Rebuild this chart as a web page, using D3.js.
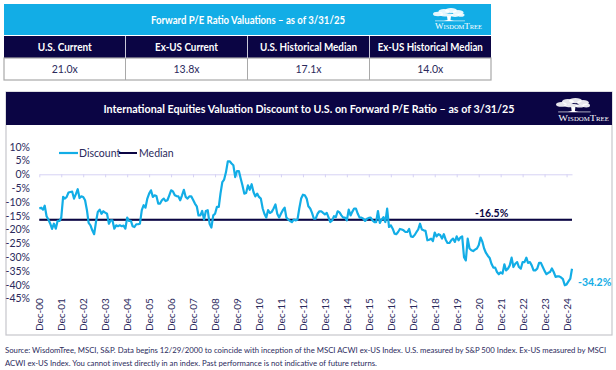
<!DOCTYPE html>
<html>
<head>
<meta charset="utf-8">
<script src="https://cdn.jsdelivr.net/npm/d3@7"></script>
<style>
  html, body { margin: 0; padding: 0; background: #fff; }
  text { font-family: "Lato", "Open Sans", sans-serif; }
</style>
</head>
<body>
<div id="chart"></div>
<script>
// table content
var tableTitle = "Forward P/E Ratio Valuations \u2013 as of 3/31/25";
var tableHeads = ["U.S. Current", "Ex-US Current", "U.S. Historical Median", "Ex-US Historical Median"];
var tableValues = ["21.0x", "13.8x", "17.1x", "14.0x"];
var chartTitle = "International Equities Valuation Discount to U.S. on Forward P/E Ratio \u2013 as of 3/31/25";
var sourceLines = [
    "Source: WisdomTree, MSCI, S&P. Data begins 12/29/2000 to coincide with inception of the MSCI ACWI ex-US Index. U.S. measured by S&P 500 Index. Ex-US measured by MSCI",
    "ACWI ex-US Index. You cannot invest directly in an index. Past performance is not indicative of future returns."
];

var startMonth = new Date(2000, 11, 1);
var medianValue = -16.5;
var lastValue = -34.2;
var yTicks = [10, 5, 0, -5, -10, -15, -20, -25, -30, -35, -40, -45];

// monthly discount, each row starts in December
var discount = [
    -12.4, -12.1, -12.8, -11.4, -15.2, -16.4, -17.9, -19.8, -17.9, -19.7, -16.9, -16.9,
    -15.7, -8.2, -8.8, -8.2, -6.6, -6.4, -6.3, -8.8, -7.2, -5.4, -8.6, -8.0,
    -8.2, -9.4, -13.0, -17.6, -18.5, -20.3, -21.7, -17.3, -13.6, -12.8, -14.3, -13.4,
    -13.9, -14.3, -17.9, -16.7, -16.7, -19.7, -18.5, -18.8, -18.5, -18.8, -18.6, -19.7,
    -15.7, -16.9, -16.9, -18.8, -19.1, -18.1, -18.1, -17.9, -13.0, -11.2, -12.1, -8.8,
    -7.0, -5.8, -8.2, -7.6, -7.9, -10.6, -10.6, -9.4, -8.8, -9.7, -9.4, -7.6,
    -5.8, -6.2, -7.6, -7.9, -8.0, -9.4, -7.6, -5.6, -8.2, -8.8, -8.0, -8.0,
    -9.2, -10.6, -11.6, -14.9, -14.9, -13.3, -16.4, -13.3, -13.0, -17.9, -19.3, -14.9,
    -14.3, -11.8, -11.8, -7.0, -2.8, -1.9, 0.8, 4.7, 4.7, 3.9, 3.3, -1.0,
    1.2, 1.2, -1.6, -4.0, -7.0, -6.8, -4.0, -5.6, -3.6, -6.4, -8.0, -7.0,
    -8.2, -8.8, -12.4, -14.3, -15.7, -13.0, -14.0, -13.6, -12.4, -10.9, -14.3, -15.7,
    -14.3, -13.0, -12.1, -15.7, -16.4, -16.9, -17.3, -16.4, -16.7, -16.4, -12.4, -8.8,
    -7.4, -7.6, -8.8, -11.6, -12.4, -14.0, -16.1, -16.1, -14.3, -13.4, -13.4, -14.0,
    -14.5, -14.0, -15.7, -17.3, -16.7, -15.2, -15.5, -13.4, -13.8, -14.9, -15.7, -15.7,
    -16.7, -12.8, -14.9, -13.6, -12.4, -12.4, -14.3, -15.7, -15.7, -16.1, -16.9, -16.1,
    -15.8, -15.7, -16.7, -17.3, -17.3, -13.3, -17.6, -16.4, -15.5, -17.3, -12.4, -19.1,
    -18.5, -19.7, -21.5, -21.7, -20.9, -19.8, -20.0, -20.3, -20.9, -20.9, -19.8, -22.5,
    -22.7, -22.0, -20.9, -20.0, -17.9, -20.0, -20.3, -20.5, -23.9, -23.7, -23.3, -24.2,
    -21.1, -22.5, -21.7, -22.0, -23.3, -21.7, -23.7, -24.9, -24.9, -23.9, -23.3, -24.5,
    -22.5, -23.9, -22.9, -22.5, -30.0, -31.2, -23.3, -26.9, -27.5, -27.8, -27.3, -26.9,
    -25.7, -22.9, -24.5, -26.9, -28.5, -29.5, -30.3, -32.4, -33.8, -33.8, -35.4, -36.2,
    -35.5, -36.0, -32.6, -34.8, -34.2, -33.0, -30.2, -33.6, -32.4, -31.8, -33.6, -34.2,
    -31.8, -31.8, -30.2, -32.1, -31.8, -33.0, -34.8, -34.8, -34.2, -32.1, -32.1, -33.6,
    -35.0, -36.2, -35.7, -35.4, -34.1, -35.4, -37.2, -37.0, -37.0, -37.4, -38.0, -40.2,
    -39.9, -38.8, -37.8, -34.2
];

function init()
{
    var w = 616;
    var h = 370;
    var navy = "#0b0544";
    var cyan = "#12ade6";
    var textCol = "#2b2a5c";

    var svg = d3.select("#chart")
        .append("svg")
        .attr("width", w)
        .attr("height", h)
        .style("display", "block");

    // top table
    var colEdges = [4, 125.5, 247.5, 369.5, 491];
    var headWidths = [54, 63, 97, 105];

    svg.append("rect").attr("x", 4).attr("y", 4).attr("width", 487).attr("height", 31).attr("fill", cyan);
    svg.append("text")
        .attr("x", 248).attr("y", 24)
        .attr("text-anchor", "middle")
        .attr("textLength", 194)
        .attr("lengthAdjust", "spacingAndGlyphs")
        .attr("fill", "#fff")
        .style("font-size", "10.5px")
        .style("font-weight", 700)
        .text(tableTitle);

    svg.append("rect").attr("x", 4).attr("y", 36).attr("width", 487).attr("height", 22).attr("fill", navy);
    svg.append("rect").attr("x", 4).attr("y", 58).attr("width", 487).attr("height", 22)
        .attr("fill", "#fff").attr("stroke", "#a9a9a9").attr("stroke-width", 1.2);

    tableHeads.forEach(function(d, i) {
        var mid = (colEdges[i] + colEdges[i + 1]) / 2;
        svg.append("text")
            .attr("x", mid).attr("y", 51)
            .attr("text-anchor", "middle")
            .attr("textLength", headWidths[i])
            .attr("lengthAdjust", "spacingAndGlyphs")
            .attr("fill", "#fff")
            .style("font-size", "10.5px")
            .style("font-weight", 700)
            .text(d);
        svg.append("text")
            .attr("x", mid).attr("y", 73)
            .attr("text-anchor", "middle")
            .attr("fill", textCol)
            .style("font-size", "10.5px")
            .text(tableValues[i]);
    });

    // column separators
    colEdges.slice(1, 4).forEach(function(x) {
        svg.append("line").attr("x1", x).attr("x2", x).attr("y1", 36).attr("y2", 58).attr("stroke", "#c9c9d8");
        svg.append("line").attr("x1", x).attr("x2", x).attr("y1", 58).attr("y2", 80).attr("stroke", "#a9a9a9");
    });

    // chart panel
    svg.append("rect").attr("x", 6).attr("y", 92).attr("width", 606).attr("height", 243)
        .attr("fill", "#fff").attr("stroke", "#c6c6cc").attr("stroke-width", 1.2);
    svg.append("rect").attr("x", 6).attr("y", 92).attr("width", 606).attr("height", 33).attr("fill", navy);
    svg.append("text")
        .attr("x", 309).attr("y", 113)
        .attr("text-anchor", "middle")
        .attr("textLength", 411)
        .attr("lengthAdjust", "spacingAndGlyphs")
        .attr("fill", "#fff")
        .style("font-size", "10.8px")
        .style("font-weight", 700)
        .text(chartTitle);

    drawLogo(433, 8, 1);
    drawLogo(556, 98, 1.08);

    // scales
    var months = discount.map(function(d, i) { return d3.timeMonth.offset(startMonth, i); });
    var xScale = d3.scaleTime()
        .domain([months[0], months[months.length - 1]])
        .range([39.3, 572]);
    var yScale = d3.scaleLinear()
        .domain([10, -45])
        .range([146.7, 298.5]);

    var decTicks = months.filter(function(d) { return d.getMonth() === 11; });

    // y axis, labels only
    var yAxis = d3.axisLeft(yScale)
        .tickValues(yTicks)
        .tickSize(0)
        .tickPadding(0)
        .tickFormat(function(d) { return d + "%"; });
    var yG = svg.append("g").attr("transform", "translate(30,0)").call(yAxis);
    yG.select(".domain").remove();
    yG.selectAll("text").attr("fill", textCol).style("font-size", "10.5px").style("font-family", "Lato");

    // x axis sits on the 0% line, labels pushed to the bottom of the plot
    var xAxis = d3.axisBottom(xScale)
        .tickValues(decTicks)
        .tickSize(3)
        .tickSizeOuter(0)
        .tickFormat(d3.timeFormat("Dec-%y"));
    var xG = svg.append("g").attr("transform", "translate(0," + yScale(0) + ")").call(xAxis);
    xG.select(".domain").attr("stroke", "#d6d2f4");
    xG.selectAll(".tick line").attr("stroke", "#d6d2f4");
    xG.selectAll("text")
        .attr("transform", "translate(0," + (331 - yScale(0)) + ") rotate(-90)")
        .attr("x", 0)
        .attr("y", 0)
        .attr("dy", "0.35em")
        .attr("text-anchor", "start")
        .attr("fill", textCol)
        .style("font-size", "10px")
        .style("font-family", "Lato");

    // median line with its pale halo
    svg.append("line")
        .attr("x1", xScale(months[0])).attr("x2", xScale(months[months.length - 1]))
        .attr("y1", yScale(medianValue) - 0.4).attr("y2", yScale(medianValue) - 0.4)
        .attr("stroke", "#b9b9c6")
        .attr("stroke-width", 3);
    svg.append("line")
        .attr("x1", xScale(months[0])).attr("x2", xScale(months[months.length - 1]))
        .attr("y1", yScale(medianValue)).attr("y2", yScale(medianValue))
        .attr("stroke", navy)
        .attr("stroke-width", 1.8);

    // discount line
    var line = d3.line()
        .x(function(d, i) { return xScale(months[i]); })
        .y(function(d) { return yScale(d); });

    svg.append("path")
        .datum(discount)
        .attr("d", line)
        .attr("fill", "none")
        .attr("stroke", cyan)
        .attr("stroke-width", 2.2)
        .attr("stroke-linejoin", "round");

    // labels
    svg.append("text")
        .attr("x", 475).attr("y", 217)
        .attr("fill", navy)
        .style("font-size", "10.5px")
        .style("font-weight", 700)
        .text(medianValue + "%");
    svg.append("text")
        .attr("x", 578).attr("y", 286)
        .attr("fill", cyan)
        .style("font-size", "10.5px")
        .style("font-weight", 700)
        .text(lastValue + "%");

    // legend
    svg.append("line").attr("x1", 59).attr("x2", 78).attr("y1", 153).attr("y2", 153).attr("stroke", cyan).attr("stroke-width", 2.2);
    svg.append("text").attr("x", 79).attr("y", 157).attr("fill", textCol).style("font-size", "10.5px").text("Discount");
    svg.append("line").attr("x1", 119).attr("x2", 137).attr("y1", 153).attr("y2", 153).attr("stroke", navy).attr("stroke-width", 2);
    svg.append("text").attr("x", 139).attr("y", 157).attr("fill", textCol).style("font-size", "10.5px").text("Median");

    // source note, smaller so the first line stays inside the page
    svg.selectAll(".source")
        .data(sourceLines)
        .enter()
        .append("text")
        .attr("class", "source")
        .attr("x", 5)
        .attr("y", function(d, i) { return 353 + i * 13; })
        .attr("fill", textCol)
        .style("font-size", "7.75px")
        .text(function(d) { return d; });

    // rough white tree with the company name under it
    function drawLogo(x, y, k) {
        var g = svg.append("g").attr("transform", "translate(" + x + "," + y + ") scale(" + k + ")");
        var blobs = [[5, 6, 5, 2.2], [11, 3.5, 5.5, 2.6], [18, 2.5, 6, 2.4], [25, 4.5, 5.5, 2.6], [28, 7, 3.5, 1.8], [14, 7, 7, 1.6], [22, 7.5, 4, 1.4]];
        blobs.forEach(function(b) {
            g.append("ellipse").attr("cx", b[0]).attr("cy", b[1]).attr("rx", b[2]).attr("ry", b[3]).attr("fill", "#fff").attr("opacity", 0.9);
        });
        g.append("path").attr("d", "M14 8 L18 8 L17.5 12 L21 13 L11 13 L14.5 12 Z").attr("fill", "#fff");
        g.append("rect").attr("x", 2).attr("y", 12.6).attr("width", 30).attr("height", 0.6).attr("fill", "#fff");
        g.append("text")
            .attr("x", 2).attr("y", 21)
            .attr("textLength", 47)
            .attr("lengthAdjust", "spacingAndGlyphs")
            .attr("fill", "#fff")
            .style("font-family", "Liberation Serif")
            .style("font-size", "8.4px")
            .style("font-variant", "small-caps")
            .text("WisdomTree");
    }
}

window.onload = init;
</script>
</body>
</html>
